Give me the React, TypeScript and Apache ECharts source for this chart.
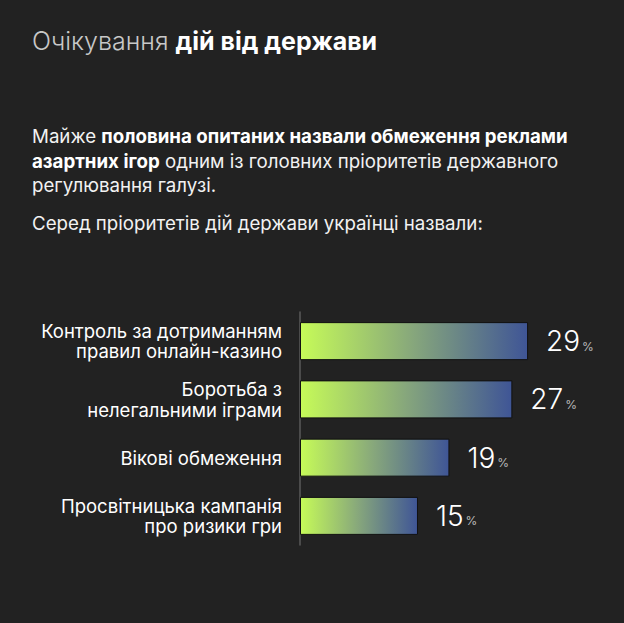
import React, { useEffect, useRef } from "react";
import * as echarts from "echarts";

const categories = [
  "Контроль за дотриманням\nправил онлайн-казино",
  "Боротьба з\nнелегальними іграми",
  "Вікові обмеження",
  "Просвітницька кампанія\nпро ризики гри",
];
const values = [29, 27, 19, 15];

const FONT = "Inter, 'Liberation Sans', Arial, sans-serif";
const LIGHT = "Inter, Roboto, sans-serif";

export default function App() {
  const ref = useRef<HTMLDivElement>(null);
  useEffect(() => {
    document.body.style.margin = "0";
    const chart = echarts.init(ref.current!, null, { renderer: "svg" });
    const nTok = (s: string) => `{n|${s}}`;
    const bTok = (s: string) => `{b|${s}}`;
    const paraRich = {
      n: { fontSize: 18.7, fontFamily: FONT, fontWeight: 400, fill: "#f2f2f2", lineHeight: 24.5 },
      b: { fontSize: 18.7, fontFamily: FONT, fontWeight: 700, fill: "#ffffff", lineHeight: 24.5 },
    };
    chart.setOption({
      animation: false,
      backgroundColor: "#222222",
      graphic: [
        {
          type: "text",
          left: 32,
          top: 28,
          style: {
            text: "{l|Очікування }{b|дій від держави}",
            rich: {
              l: { fontSize: 25, fontFamily: LIGHT, fontWeight: 300, fill: "#c8c8c8" },
              b: { fontSize: 25, fontFamily: FONT, fontWeight: 700, fill: "#ffffff" },
            },
          },
        },
        {
          type: "text",
          left: 32,
          top: 127,
          style: {
            text:
              nTok("Майже ") + bTok("половина опитаних назвали обмеження реклами") + "\n" +
              bTok("азартних ігор") + nTok(" одним із головних пріоритетів державного") + "\n" +
              nTok("регулювання галузі."),
            rich: paraRich,
          },
        },
        {
          type: "text",
          left: 32,
          top: 214,
          style: {
            text: nTok("Серед пріоритетів дій держави українці назвали:"),
            rich: paraRich,
          },
        },
      ],
      grid: { left: 300, top: 312, height: 233, right: 9.4 },
      xAxis: { type: "value", min: 0, max: 40, show: false },
      yAxis: {
        type: "category",
        inverse: true,
        data: categories,
        axisLine: { show: true, lineStyle: { color: "#5a5a5a", width: 1.5 } },
        axisTick: { show: false },
        splitLine: { show: false },
        axisLabel: {
          color: "#ffffff",
          fontSize: 18.5,
          lineHeight: 20.5,
          fontFamily: FONT,
          margin: 18,
          align: "right",
        },
      },
      series: [
        {
          type: "bar",
          data: values,
          barWidth: 38,
          itemStyle: {
            borderColor: "#111111",
            borderWidth: 1,
            color: new echarts.graphic.LinearGradient(0, 0, 1, 0, [
              { offset: 0, color: "#c6fb58" },
              { offset: 0.5, color: "#86a67c" },
              { offset: 1, color: "#3f5596" },
            ]),
          },
          label: {
            show: true,
            position: "right",
            distance: 18,
            formatter: "{a|{c}}{p|%}",
            rich: {
              a: { fontSize: 28, fontWeight: 300, color: "#ffffff", fontFamily: LIGHT, verticalAlign: "bottom" },
              p: { fontSize: 12, color: "#bbbbbb", fontFamily: FONT, verticalAlign: "bottom", padding: [0, 0, 3, 2] },
            },
          },
        },
      ],
    });
    return () => chart.dispose();
  }, []);
  return <div ref={ref} style={{ width: 624, height: 623 }} />;
}
